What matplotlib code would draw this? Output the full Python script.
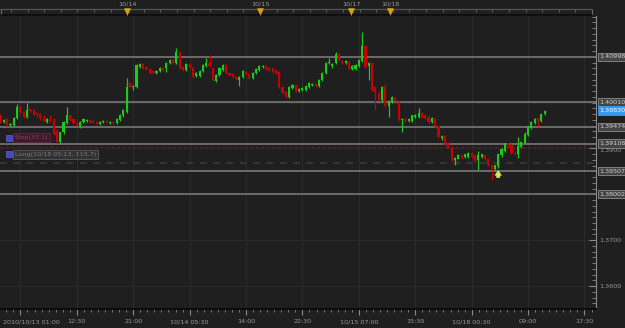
import matplotlib
matplotlib.use("Agg")
import matplotlib.pyplot as plt
import matplotlib.transforms as mtransforms
import numpy as np

# 30-minute candles starting 2010/10/13 01:00
opens = [1.3972, 1.3958, 1.3965, 1.3952, 1.3952, 1.3967, 1.3991, 1.3980, 1.3969, 1.3987,
         1.3985, 1.3978, 1.3976, 1.3969, 1.3958, 1.3965, 1.3965, 1.3941, 1.3915, 1.3935,
         1.3956, 1.3972, 1.3965, 1.3956, 1.3948, 1.3958, 1.3961, 1.3963, 1.3961, 1.3958,
         1.3954, 1.3958, 1.3961, 1.3956, 1.3958, 1.3956, 1.3963, 1.3972, 1.3980, 1.4043,
         1.4035, 1.4035, 1.4078, 1.4085, 1.4078, 1.4074, 1.4069, 1.4065, 1.4069, 1.4076,
         1.4076, 1.4087, 1.4093, 1.4087, 1.4111, 1.4078, 1.4072, 1.4085, 1.4076, 1.4058,
         1.4058, 1.4069, 1.4080, 1.4087, 1.4076, 1.4048, 1.4061, 1.4072, 1.4082, 1.4065,
         1.4063, 1.4056, 1.4050, 1.4056, 1.4067, 1.4063, 1.4054, 1.4065, 1.4072, 1.4078,
         1.4080, 1.4076, 1.4076, 1.4072, 1.4067, 1.4035, 1.4024, 1.4013, 1.4032, 1.4039,
         1.4026, 1.4028, 1.4028, 1.4035, 1.4039, 1.4041, 1.4037, 1.4050, 1.4065, 1.4087,
         1.4080, 1.4087, 1.4106, 1.4091, 1.4087, 1.4089, 1.4074, 1.4074, 1.4080, 1.4091,
         1.4124, 1.4080, 1.4087, 1.4035, 1.4022, 1.4006, 1.4035, 1.3993, 1.4004, 1.4011,
         1.4002, 1.3963, 1.3965, 1.3961, 1.3961, 1.3969, 1.3969, 1.3978, 1.3972, 1.3969,
         1.3958, 1.3965, 1.3950, 1.3922, 1.3928, 1.3913, 1.3904, 1.3874, 1.3878, 1.3885,
         1.3882, 1.3882, 1.3891, 1.3885, 1.3874, 1.3882, 1.3885, 1.3878, 1.3865, 1.3856,
         1.3861, 1.3885, 1.3895, 1.3911, 1.3908, 1.3891, 1.3887, 1.3904, 1.3913, 1.3930,
         1.3945, 1.3956, 1.3967, 1.3961, 1.3976]
closes = [1.3958, 1.3963, 1.3952, 1.3954, 1.3967, 1.3991, 1.3980, 1.3969, 1.3985, 1.3982,
          1.3974, 1.3972, 1.3967, 1.3961, 1.3965, 1.3961, 1.3932, 1.3915, 1.3935, 1.3958,
          1.3972, 1.3963, 1.3956, 1.3950, 1.3958, 1.3965, 1.3963, 1.3958, 1.3958, 1.3954,
          1.3958, 1.3961, 1.3958, 1.3958, 1.3956, 1.3965, 1.3974, 1.3985, 1.4035, 1.4035,
          1.4037, 1.4082, 1.4085, 1.4076, 1.4074, 1.4065, 1.4065, 1.4069, 1.4076, 1.4072,
          1.4087, 1.4093, 1.4087, 1.4111, 1.4076, 1.4072, 1.4085, 1.4078, 1.4056, 1.4065,
          1.4069, 1.4082, 1.4087, 1.4080, 1.4050, 1.4061, 1.4076, 1.4082, 1.4065, 1.4061,
          1.4056, 1.4052, 1.4056, 1.4069, 1.4063, 1.4054, 1.4065, 1.4074, 1.4080, 1.4080,
          1.4074, 1.4072, 1.4067, 1.4065, 1.4035, 1.4022, 1.4013, 1.4035, 1.4039, 1.4026,
          1.4030, 1.4032, 1.4037, 1.4043, 1.4041, 1.4037, 1.4050, 1.4065, 1.4087, 1.4089,
          1.4085, 1.4106, 1.4093, 1.4087, 1.4091, 1.4074, 1.4080, 1.4082, 1.4093, 1.4124,
          1.4078, 1.4087, 1.4028, 1.4022, 1.4006, 1.4035, 1.3993, 1.4004, 1.4013, 1.4004,
          1.3963, 1.3965, 1.3961, 1.3965, 1.3972, 1.3974, 1.3978, 1.3969, 1.3967, 1.3958,
          1.3967, 1.3948, 1.3924, 1.3928, 1.3908, 1.3902, 1.3874, 1.3880, 1.3885, 1.3880,
          1.3887, 1.3891, 1.3882, 1.3872, 1.3885, 1.3887, 1.3876, 1.3863, 1.3856, 1.3863,
          1.3887, 1.3898, 1.3911, 1.3904, 1.3891, 1.3887, 1.3906, 1.3915, 1.3932, 1.3948,
          1.3958, 1.3965, 1.3958, 1.3976, 1.3982]
highs = [1.3976, 1.3965, 1.3967, 1.3956, 1.3969, 1.3998, 1.3995, 1.3982, 1.4000, 1.3989,
         1.3987, 1.3980, 1.3978, 1.3972, 1.3967, 1.3972, 1.3967, 1.3943, 1.3937, 1.3961,
         1.3991, 1.3974, 1.3967, 1.3958, 1.3961, 1.3967, 1.3965, 1.3965, 1.3963, 1.3961,
         1.3961, 1.3963, 1.3963, 1.3961, 1.3961, 1.3967, 1.3976, 1.3987, 1.4054, 1.4045,
         1.4039, 1.4085, 1.4087, 1.4087, 1.4080, 1.4076, 1.4072, 1.4072, 1.4078, 1.4078,
         1.4089, 1.4095, 1.4095, 1.4119, 1.4113, 1.4080, 1.4087, 1.4087, 1.4078, 1.4067,
         1.4072, 1.4085, 1.4098, 1.4104, 1.4078, 1.4063, 1.4078, 1.4085, 1.4085, 1.4067,
         1.4065, 1.4058, 1.4058, 1.4072, 1.4069, 1.4065, 1.4067, 1.4076, 1.4082, 1.4082,
         1.4082, 1.4078, 1.4078, 1.4074, 1.4069, 1.4037, 1.4026, 1.4037, 1.4041, 1.4041,
         1.4032, 1.4035, 1.4039, 1.4045, 1.4043, 1.4043, 1.4052, 1.4067, 1.4089, 1.4098,
         1.4087, 1.4111, 1.4108, 1.4093, 1.4093, 1.4091, 1.4082, 1.4085, 1.4095, 1.4154,
         1.4126, 1.4089, 1.4089, 1.4037, 1.4024, 1.4037, 1.4043, 1.4006, 1.4015, 1.4013,
         1.4004, 1.3967, 1.3967, 1.3967, 1.3974, 1.3976, 1.3989, 1.3980, 1.3974, 1.3972,
         1.3969, 1.3967, 1.3952, 1.3930, 1.3930, 1.3915, 1.3906, 1.3882, 1.3887, 1.3887,
         1.3889, 1.3893, 1.3893, 1.3887, 1.3895, 1.3889, 1.3887, 1.3880, 1.3867, 1.3865,
         1.3889, 1.3900, 1.3913, 1.3913, 1.3911, 1.3893, 1.3926, 1.3917, 1.3935, 1.3950,
         1.3961, 1.3967, 1.3969, 1.3978, 1.3985]
lows = [1.3956, 1.3956, 1.3950, 1.3950, 1.3950, 1.3965, 1.3978, 1.3967, 1.3967, 1.3980,
        1.3972, 1.3969, 1.3963, 1.3958, 1.3956, 1.3958, 1.3930, 1.3913, 1.3911, 1.3932,
        1.3954, 1.3961, 1.3954, 1.3948, 1.3945, 1.3956, 1.3958, 1.3956, 1.3956, 1.3952,
        1.3952, 1.3956, 1.3956, 1.3954, 1.3954, 1.3954, 1.3961, 1.3969, 1.3978, 1.4032,
        1.4028, 1.4032, 1.4076, 1.4074, 1.4072, 1.4063, 1.4063, 1.4063, 1.4067, 1.4069,
        1.4067, 1.4085, 1.4085, 1.4085, 1.4074, 1.4069, 1.4069, 1.4076, 1.4054, 1.4056,
        1.4056, 1.4067, 1.4078, 1.4078, 1.4048, 1.4045, 1.4058, 1.4069, 1.4063, 1.4058,
        1.4054, 1.4050, 1.4037, 1.4054, 1.4061, 1.4052, 1.4052, 1.4063, 1.4069, 1.4076,
        1.4072, 1.4069, 1.4065, 1.4063, 1.4032, 1.4019, 1.4011, 1.4011, 1.4030, 1.4024,
        1.4024, 1.4026, 1.4026, 1.4032, 1.4037, 1.4035, 1.4035, 1.4048, 1.4063, 1.4085,
        1.4076, 1.4085, 1.4091, 1.4085, 1.4085, 1.4072, 1.4072, 1.4072, 1.4078, 1.4089,
        1.4076, 1.4050, 1.4026, 1.3985, 1.4004, 1.4004, 1.3991, 1.3969, 1.4000, 1.4002,
        1.3961, 1.3935, 1.3958, 1.3958, 1.3958, 1.3967, 1.3967, 1.3967, 1.3965, 1.3954,
        1.3956, 1.3945, 1.3922, 1.3919, 1.3906, 1.3900, 1.3872, 1.3863, 1.3876, 1.3878,
        1.3880, 1.3880, 1.3880, 1.3869, 1.3854, 1.3880, 1.3874, 1.3861, 1.3832, 1.3854,
        1.3858, 1.3882, 1.3893, 1.3902, 1.3889, 1.3885, 1.3880, 1.3902, 1.3911, 1.3928,
        1.3943, 1.3954, 1.3950, 1.3958, 1.3974]

# horizontal price levels and their right-axis tags
levels = [1.40998, 1.40010, 1.39474, 1.39108, 1.38507, 1.38002]
last_price = 1.39830
stop_price = 1.3904
long_price = 1.3869
signal_bar = 150
signal_price = 1.3836

# right-axis round numbers (the ones under a level tag are covered anyway)
price_ticks = [1.36, 1.37, 1.39]

# bottom time axis (bar index, label)
time_ticks = [0, 23, 40, 57, 74, 91, 108, 125, 142, 159, 176]
time_labels = ["2010/10/13 01:00", "12:30", "21:00", "10/14 05:30", "14:00", "22:30",
               "10/15 07:00", "15:30", "10/18 00:30", "09:00", "17:30"]
grid_bars = [6, 23, 40, 57, 74, 91, 108, 125, 142, 159, 176]

# top overview strip: day markers (strip pixel position, label)
day_marks = [127, 260, 351, 390]
day_labels = ["10/14", "10/15", "10/17", "10/18"]

BG = "#1f1f1f"
TXT = "#9a9a9a"
GREEN = "#1ec81e"
RED = "#c80000"

W, H = 625, 328
fig = plt.figure(figsize=(W / 100, H / 100), dpi=100, facecolor=BG)
plot_right = 596
ax = fig.add_axes([0, (H - 309) / H, plot_right / W, (309 - 16) / H], facecolor=BG)

n = len(closes)
x = np.arange(n)
o = np.array(opens)
c = np.array(closes)
up = c >= o
cols = np.where(up, GREEN, RED)

ax.vlines(x, lows, highs, colors=cols, linewidth=0.9, zorder=3)
body = np.maximum(np.abs(c - o), 0.00008)
ax.bar(x, body, bottom=np.minimum(o, c), width=0.64, color=cols, linewidth=0, zorder=4)

x0 = -0.15
x1 = (plot_right - 0.5) / 3.318
ax.set_xlim(x0, x1)
ax.set_ylim(1.35519, 1.41889)

# grid
for g in grid_bars:
    ax.axvline(g, color="#2c2c2c", lw=0.8, zorder=1)
for yv in [1.36, 1.37, 1.38, 1.39, 1.40, 1.41]:
    ax.axhline(yv, color="#2a2a2a", lw=0.8, zorder=1)

# level lines
for lv in levels:
    ax.axhline(lv, color="#727272", lw=1.3, zorder=2)
ax.axhline(stop_price, color="#5c1c22", lw=1.0, dashes=(2, 2), zorder=2)
ax.axhline(long_price, color="#353535", lw=1.6, dashes=(3, 3), zorder=2)

# right axis
ax.yaxis.tick_right()
ax.set_yticks(price_ticks)
ax.set_yticklabels(["%.4f" % v for v in price_ticks])
ax.set_yticks(np.arange(1.355, 1.42, 0.00125), minor=True)
ax.tick_params(axis="y", which="major", direction="in", length=5, color="#8a8a8a",
               labelsize=4.6, labelcolor=TXT, pad=2)
ax.tick_params(axis="y", which="minor", direction="in", length=3, color="#8a8a8a")
for lab in ax.get_yticklabels():
    if lab.get_text() == "1.3900":
        lab.set_va("top")

# bottom axis
ax.set_xticks(grid_bars)
ax.set_xticklabels([])
ax.set_xticks(np.arange(6 - 17 / 8 * 2, x1, 17 / 8), minor=True)
ax.tick_params(axis="x", which="major", direction="out", length=4, color="#8a8a8a")
ax.tick_params(axis="x", which="minor", direction="out", length=2, color="#8a8a8a")
for t, lab in zip(time_ticks, time_labels):
    ha = "left" if t == 0 else "center"
    ax.annotate(lab, xy=(t, 0), xycoords=("data", "axes fraction"), xytext=(2 if t == 0 else 0, -9),
                textcoords="offset points", ha=ha, va="center", fontsize=4.6, color=TXT,
                annotation_clip=False)

for side in ["top", "left"]:
    ax.spines[side].set_visible(False)
ax.spines["right"].set_color("#8a8a8a")
ax.spines["bottom"].set_color("#0c0c0c")
ax.spines["bottom"].set_linewidth(1.5)

# right-axis tags
for lv in levels:
    ax.annotate("%.5f" % lv, xy=(1, lv), xycoords=("axes fraction", "data"), xytext=(2.5, 0),
                textcoords="offset points", ha="left", va="center", fontsize=4.6, color="#d0d0d0",
                bbox=dict(boxstyle="square,pad=0.25", fc="#444444", ec="#8c8c8c", lw=0.6),
                zorder=6, annotation_clip=False)
ax.annotate("%.5f" % last_price, xy=(1, last_price), xycoords=("axes fraction", "data"),
            xytext=(2.5, 0), textcoords="offset points", ha="left", va="center", fontsize=4.6,
            color="#ffffff", bbox=dict(boxstyle="square,pad=0.25", fc="#3399ee", ec="#3399ee", lw=0.6),
            zorder=7, annotation_clip=False)

# trade tags on the left, each with a small blue square in front
tag_trans = mtransforms.blended_transform_factory(ax.transAxes, ax.transData)
for txt, pr, dy, fg, bg, edge in [("Stop(37.1)", stop_price, 6.5, "#9a3c64", "#3e1a2a", "#5a2a40"),
                                  ("Long(10/18 05:13, 115.7)", long_price, 6, "#7a7a7a", "#333336", "#5a5a5a")]:
    ax.annotate(txt, xy=(0, pr), xycoords=("axes fraction", "data"), xytext=(10.5, dy),
                textcoords="offset points", ha="left", va="center", fontsize=4.6, color=fg,
                bbox=dict(boxstyle="square,pad=0.3", fc=bg, ec=edge, lw=0.6), zorder=6)
    off = mtransforms.ScaledTranslation(6.2 / 72, dy / 72, fig.dpi_scale_trans)
    ax.plot([0], [pr], marker="s", ms=4.2, color="#4646cc", mec="#6a6ae0", mew=0.4,
            transform=tag_trans + off, zorder=7, clip_on=False)

# buy signal arrow
ax.annotate("", xy=(signal_bar, signal_price + 0.0017), xytext=(signal_bar, signal_price),
            arrowprops=dict(arrowstyle="simple,head_width=0.55,head_length=0.4,tail_width=0.28",
                            color="#c4ee5c", lw=0, shrinkA=0, shrinkB=0), zorder=8)

# top overview strip
axt = fig.add_axes([0, (H - 16) / H, plot_right / W, 16 / H], facecolor=BG)
axt.set_xlim(0, plot_right)
axt.set_ylim(16, 0)
axt.axis("off")
axt.hlines(9, 0, 592, color="#555555", lw=0.9)
axt.hlines(15, 0, 592, color="#0c0c0c", lw=1.2)
axt.vlines(np.arange(11, 592, 16.6), 9, 11.5, color="#6a6a6a", lw=0.6)
axt.vlines([1, 592], 9, 14, color="#6a6a6a", lw=0.8)
axt.scatter(day_marks, [11] * len(day_marks), marker="v", s=14, color="#d6a01a", zorder=3)
for xm, lab in zip(day_marks, day_labels):
    axt.vlines(xm, 9, 15, color="#aaaaaa", lw=0.6)
    axt.text(xm, 4.5, lab, ha="center", va="center", fontsize=4.6, color=TXT)

fig.savefig("out.png", dpi=100, facecolor=BG)
